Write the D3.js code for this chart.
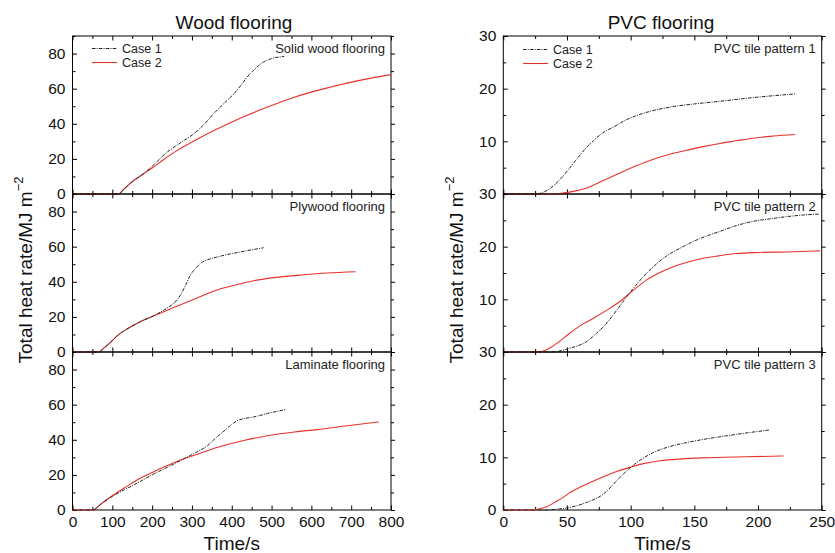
<!DOCTYPE html>
<html>
<head>
<meta charset="utf-8">
<script src="https://cdn.jsdelivr.net/npm/d3@7"></script>
<style>
  html, body { margin: 0; padding: 0; background: #fff; }
  svg { display: block; font-family: "Liberation Sans", Arial, sans-serif; }
</style>
</head>
<body>
<svg id="chart" width="835" height="553"></svg>
<script>
// ---------- DATA ----------
const seriesNames = ["Case 1", "Case 2"];
const groupTitles = ["Wood flooring", "PVC flooring"];
const woodPanels = ["Solid wood flooring", "Plywood flooring", "Laminate flooring"];
const pvcPanels = ["PVC tile pattern 1", "PVC tile pattern 2", "PVC tile pattern 3"];
const woodXTicks = [0, 100, 200, 300, 400, 500, 600, 700, 800];
const pvcXTicks = [0, 50, 100, 150, 200, 250];
const woodYTicks = [0, 20, 40, 60, 80];
const pvcYTicks = [0, 10, 20, 30];

// Solid wood flooring
const solidC1T = [0, 110, 115, 130, 150, 178, 200, 237, 270, 304, 330, 354, 380, 405, 420, 438, 455, 467, 480, 497, 510, 526, 532];
const solidC1Y = [0, 0, 0, 3, 7, 11.6, 15.8, 23.7, 29, 34.2, 39.5, 45.6, 51.5, 57, 61, 66.4, 70.5, 73.1, 75.2, 76.9, 77.7, 78.2, 78.4];
const solidC2T = [0, 110, 115, 130, 150, 178, 200, 230, 262, 300, 363, 420, 488, 550, 597, 650, 698, 750, 800];
const solidC2Y = [0, 0, 0, 3, 7, 11.4, 14.8, 19.8, 24.7, 29.6, 37, 43, 49.4, 54.6, 57.9, 61, 63.6, 66, 68];
// Plywood flooring
const plyC1T = [0, 60, 65, 80, 100, 115, 140, 170, 203, 220, 237, 254, 270, 285, 296, 310, 321, 340, 363, 390, 421, 450, 480];
const plyC1Y = [0, 0, 0, 2.5, 6.5, 9.8, 13.5, 17.2, 20.5, 22.6, 24.9, 27.7, 32, 38.5, 43.8, 47.8, 50.4, 52.6, 54.1, 55.6, 57, 58.2, 59.4];
const plyC2T = [0, 60, 65, 80, 100, 115, 140, 170, 203, 237, 270, 310, 363, 410, 455, 510, 572, 640, 711];
const plyC2Y = [0, 0, 0, 2.5, 6.5, 9.8, 13.5, 17.2, 20.5, 23.7, 26.8, 30.5, 35.3, 38.2, 40.6, 42.5, 43.8, 45, 45.7];
// Laminate flooring
const lamC1T = [0, 48, 52, 70, 99, 130, 160, 199, 235, 270, 300, 321, 340, 354, 370, 388, 400, 413, 430, 455, 490, 535];
const lamC1Y = [0, 0, 0, 3, 7.6, 11.5, 15, 19.9, 24, 28, 31.6, 34.1, 36.8, 39.8, 43, 46.4, 48.8, 50.8, 52, 53, 55, 57.2];
const lamC2T = [0, 48, 52, 70, 99, 130, 160, 199, 235, 270, 310, 363, 430, 497, 560, 614, 690, 769];
const lamC2Y = [0, 0, 0, 3.2, 7.95, 12.5, 16.8, 21.2, 25, 28.4, 31.5, 35.6, 39.6, 42.6, 44.5, 45.8, 48, 50.2];
// PVC tile pattern 1
const pvc1C1T = [0, 25, 30, 37, 44.5, 51, 57.6, 64, 70.7, 78, 86.4, 95, 104.7, 117, 130.9, 150, 170, 196, 229];
const pvc1C1Y = [0, 0, 0.2, 1.1, 2.75, 4.6, 6.6, 8.5, 10.1, 11.6, 12.7, 13.9, 14.9, 15.8, 16.5, 17.1, 17.6, 18.3, 19];
const pvc1C2T = [0, 40, 47, 55, 65.5, 78, 91.6, 104, 117.8, 130, 144, 157, 170, 183, 196, 212, 229];
const pvc1C2Y = [0, 0, 0.2, 0.5, 1.15, 2.5, 4.0, 5.3, 6.6, 7.5, 8.3, 9.0, 9.6, 10.1, 10.6, 11.0, 11.3];
// PVC tile pattern 2
const pvc2C1T = [0, 36, 42, 52, 65.5, 73, 81.2, 89, 96.9, 107, 117.8, 128, 138.7, 154, 170, 183, 196, 210, 222.5, 235, 248.6];
const pvc2C1Y = [0, 0, 0.1, 0.7, 2.0, 3.5, 5.5, 7.9, 10.5, 13.5, 16.2, 18.2, 19.7, 21.5, 22.9, 24, 24.8, 25.3, 25.7, 26, 26.2];
const pvc2C2T = [0, 27, 31.4, 40, 52.4, 61, 70.7, 81, 91.6, 102, 112.6, 123, 133.5, 145, 157, 170, 183, 200, 222.5, 248.6];
const pvc2C2Y = [0, 0, 0.2, 1.3, 3.6, 5.1, 6.4, 7.9, 9.6, 11.7, 13.7, 15.1, 16.2, 17.1, 17.8, 18.3, 18.7, 18.9, 19.0, 19.2];
// PVC tile pattern 3
const pvc3C1T = [0, 30, 34, 42, 52.4, 65.5, 78.5, 91.6, 104.7, 117.8, 130, 144, 157, 170, 190, 209.4];
const pvc3C1Y = [0, 0, 0, 0.15, 0.5, 1.45, 3.0, 6.2, 9.0, 10.9, 12.0, 12.8, 13.4, 13.9, 14.6, 15.2];
const pvc3C2T = [0, 18, 21, 27, 34, 40, 47, 53, 60, 70, 78.5, 89, 99.5, 110, 123, 140, 157, 190, 220];
const pvc3C2Y = [0, 0, 0, 0.15, 0.6, 1.4, 2.4, 3.4, 4.3, 5.4, 6.3, 7.3, 8.1, 8.8, 9.35, 9.7, 9.9, 10.1, 10.25];

// ---------- LAYOUT ----------
const svg = d3.select("#chart");
const rows = [36, 194, 352, 510];
const font = "'Liberation Sans', Arial, sans-serif";
const red = "#e8312b";
const groups = [
  {
    x0: 72.5, x1: 391, xDomain: [0, 800], xTicks: woodXTicks, xMinor: d3.range(50, 800, 100),
    yDomain: [0, 90], yTicks: woodYTicks, yMinor: [10, 30, 50, 70, 90],
    title: groupTitles[0], titleX: 234, labels: woodPanels,
    data: [[solidC1T, solidC1Y, solidC2T, solidC2Y], [plyC1T, plyC1Y, plyC2T, plyC2Y], [lamC1T, lamC1Y, lamC2T, lamC2Y]],
    hideZero: false, ylabelX: 32, legend: {lx: 92, tx: 122, y1: 48.5, y2: 62.5}
  },
  {
    x0: 503.3, x1: 821.7, xDomain: [0, 250], xTicks: pvcXTicks, xMinor: d3.range(25, 250, 50),
    yDomain: [0, 30], yTicks: pvcYTicks, yMinor: [5, 15, 25],
    title: groupTitles[1], titleX: 661, labels: pvcPanels,
    data: [[pvc1C1T, pvc1C1Y, pvc1C2T, pvc1C2Y], [pvc2C1T, pvc2C1Y, pvc2C2T, pvc2C2Y], [pvc3C1T, pvc3C1Y, pvc3C2T, pvc3C2Y]],
    hideZero: true, ylabelX: 463, legend: {lx: 523, tx: 553, y1: 49.5, y2: 63.5}
  }
];

groups.forEach(g => {
  const x = d3.scaleLinear().domain(g.xDomain).range([g.x0, g.x1]);
  const w = g.x1 - g.x0;
  g.data.forEach((d, i) => {
    const top = rows[i], bot = rows[i + 1];
    const y = d3.scaleLinear().domain(g.yDomain).range([bot, top]);
    const p = svg.append("g");

    // frame
    p.append("rect").attr("x", g.x0).attr("y", top).attr("width", w).attr("height", bot - top)
      .attr("fill", "none").attr("stroke", "#000").attr("stroke-width", 1);

    const styleAxis = a => {
      a.select(".domain").remove();
      a.selectAll("line").attr("stroke", "#000");
      a.selectAll("text").attr("font-family", font).attr("font-size", 15.5).attr("fill", "#111");
    };

    // left y axis (ticks inward)
    const labelTicks = (g.hideZero && i < 2) ? g.yTicks.filter(v => v !== 0) : g.yTicks;
    p.append("g").attr("transform", `translate(${g.x0},0)`)
      .call(d3.axisLeft(y).tickValues(g.yTicks).tickSize(-4.5).tickPadding(7)
        .tickFormat(v => labelTicks.includes(v) ? d3.format("d")(v) : ""))
      .call(styleAxis);
    p.append("g").attr("transform", `translate(${g.x0},0)`)
      .call(d3.axisLeft(y).tickValues(g.yMinor).tickSize(-3).tickFormat(""))
      .call(styleAxis);
    // right mirrored ticks (outward)
    p.append("g").attr("transform", `translate(${g.x1},0)`)
      .call(d3.axisRight(y).tickValues(g.yTicks).tickSize(4).tickFormat(""))
      .call(styleAxis);
    p.append("g").attr("transform", `translate(${g.x1},0)`)
      .call(d3.axisRight(y).tickValues(g.yMinor).tickSize(3).tickFormat(""))
      .call(styleAxis);
    // bottom x ticks (inward)
    p.append("g").attr("transform", `translate(0,${bot})`)
      .call(d3.axisBottom(x).tickValues(g.xTicks).tickSize(-4.5).tickPadding(6)
        .tickFormat(i === 2 ? d3.format("d") : ""))
      .call(styleAxis);
    p.append("g").attr("transform", `translate(0,${bot})`)
      .call(d3.axisBottom(x).tickValues(g.xMinor).tickSize(-3).tickFormat(""))
      .call(styleAxis);
    // top x ticks (inward)
    p.append("g").attr("transform", `translate(0,${top})`)
      .call(d3.axisTop(x).tickValues(g.xTicks).tickSize(-4.5).tickFormat(""))
      .call(styleAxis);
    p.append("g").attr("transform", `translate(0,${top})`)
      .call(d3.axisTop(x).tickValues(g.xMinor).tickSize(-3).tickFormat(""))
      .call(styleAxis);

    // lines
    const line = d3.line().x(q => x(q[0])).y(q => y(q[1])).curve(d3.curveMonotoneX);
    const c2 = d[2].map((t, k) => [t, d[3][k]]);
    const c1 = d[0].map((t, k) => [t, d[1][k]]);
    p.append("path").attr("d", line(c2)).attr("fill", "none").attr("stroke", red).attr("stroke-width", 1.1);
    p.append("path").attr("d", line(c1)).attr("fill", "none").attr("stroke", "#222").attr("stroke-width", 1)
      .attr("stroke-dasharray", "3.5,1.2,1,1.2");

    // panel label
    p.append("text").attr("x", g.x1 - 6).attr("y", top + 16.5).attr("text-anchor", "end")
      .attr("font-family", font).attr("font-size", 13).attr("fill", "#222").text(g.labels[i]);
  });

  // legend
  const L = g.legend;
  svg.append("line").attr("x1", L.lx).attr("x2", L.lx + 25).attr("y1", L.y1).attr("y2", L.y1)
    .attr("stroke", "#222").attr("stroke-width", 1).attr("stroke-dasharray", "3.5,1.2,1,1.2");
  svg.append("line").attr("x1", L.lx).attr("x2", L.lx + 25).attr("y1", L.y2).attr("y2", L.y2)
    .attr("stroke", red).attr("stroke-width", 1.1);
  svg.append("text").attr("x", L.tx).attr("y", L.y1 + 4.3).attr("font-family", font).attr("font-size", 12.5)
    .attr("fill", "#222").text(seriesNames[0]);
  svg.append("text").attr("x", L.tx).attr("y", L.y2 + 4.3).attr("font-family", font).attr("font-size", 12.5)
    .attr("fill", "#222").text(seriesNames[1]);

  // title
  svg.append("text").attr("x", g.titleX).attr("y", 28.5).attr("text-anchor", "middle")
    .attr("font-family", font).attr("font-size", 19).attr("fill", "#111").text(g.title);
  // x label
  svg.append("text").attr("x", (g.x0 + g.x1) / 2).attr("y", 550).attr("text-anchor", "middle")
    .attr("font-family", font).attr("font-size", 19).attr("fill", "#111").text("Time/s");
  // y label
  const yl = svg.append("text").attr("transform", `translate(${g.ylabelX},270) rotate(-90)`)
    .attr("text-anchor", "middle").attr("font-family", font).attr("font-size", 19).attr("fill", "#111");
  yl.append("tspan").text("Total heat rate/MJ m");
  yl.append("tspan").attr("font-size", 13).attr("baseline-shift", "9").text("\u22122");
});
</script>
</body>
</html>
